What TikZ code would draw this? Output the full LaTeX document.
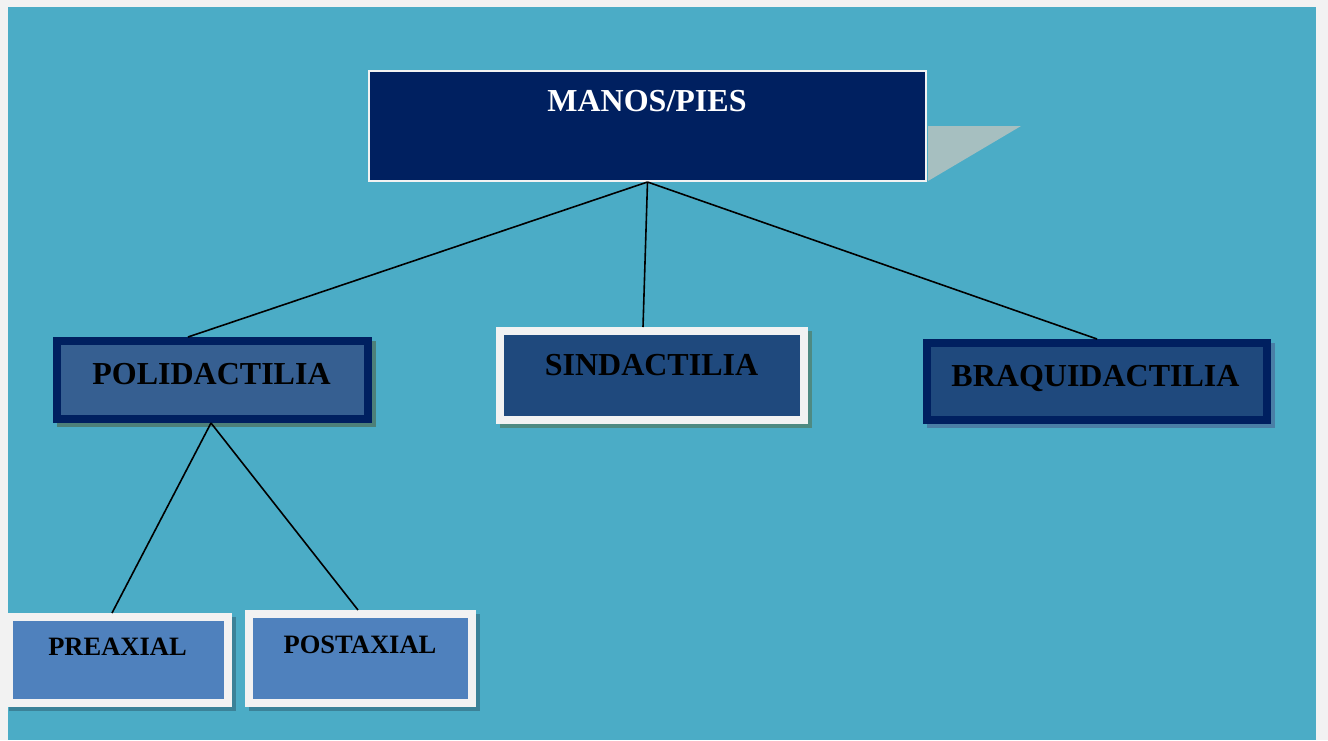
\documentclass[tikz,border=0pt]{standalone}
\usepackage{fontspec}
\setmainfont{Liberation Serif}
\definecolor{pagegray}{HTML}{F2F2F2}
\definecolor{aqua}{HTML}{4BACC6}
\definecolor{navy}{HTML}{002060}
\definecolor{midblue}{HTML}{365F91}
\definecolor{darkblue}{HTML}{1F497D}
\definecolor{lightblue}{HTML}{4F81BD}
\definecolor{wedge}{HTML}{A6BFC0}
\definecolor{shgreen}{HTML}{4D8079}
\definecolor{shsea}{HTML}{4E8A82}
\definecolor{shblue}{HTML}{4A7FA6}
\definecolor{shteal}{HTML}{3B8298}
\tikzset{
  x=1pt, y=-1pt,
  box/.style={rectangle, inner sep=0pt, line width=8pt},
  shade/.style={preaction={draw=#1, fill=#1,
      transform canvas={xshift=3.5pt, yshift=-3.5pt}}},
  label/.style={anchor=base, inner sep=0pt, font=\bfseries\fontsize{32}{32}\selectfont},
  small/.style={anchor=base, inner sep=0pt, font=\bfseries\fontsize{26.5}{26.5}\selectfont},
  link/.style={line width=1.6pt, black}
}
\begin{document}
\begin{tikzpicture}
\useasboundingbox (0,0) rectangle (1328,740);
% page and coloured panel
\fill[pagegray] (0,0) rectangle (1328,740);
\fill[aqua] (8,7) rectangle (1316,740);

% title box with its wedge
\fill[wedge] (928,126) -- (1021,126) -- (928,181) -- cycle;
\node[rectangle, inner sep=0pt, line width=2pt, draw=pagegray, fill=navy,
      minimum width=557pt, minimum height=110pt] (top) at (647.5,126) {};
\node[label, text=white] (toptxt) at (647,111) {MANOS/PIES};

% second level
\node[box, draw=navy, fill=midblue, shade=shgreen,
      minimum width=311pt, minimum height=78pt] (pol) at (212.5,380) {};
\node[label] (poltxt) at (211.5,384) {POLIDACTILIA};

\node[box, draw=pagegray, fill=darkblue, shade=shsea,
      minimum width=304pt, minimum height=89pt] (sin) at (652,375.5) {};
\node[label] (sintxt) at (651.5,375) {SINDACTILIA};

\node[box, draw=navy, fill=darkblue, shade=shblue,
      minimum width=340pt, minimum height=77pt] (bra) at (1097,381.5) {};
\node[label] (bratxt) at (1095.5,386) {BRAQUIDACTILIA};

% third level
\node[box, draw=pagegray, fill=lightblue, shade=shteal,
      minimum width=219pt, minimum height=86pt] (pre) at (118.5,660) {};
\node[small] (pretxt) at (117.5,655) {PREAXIAL};

\node[box, draw=pagegray, fill=lightblue, shade=shteal,
      minimum width=223pt, minimum height=89pt] (post) at (360.5,658.5) {};
\node[small] (posttxt) at (360,653) {POSTAXIAL};

% connectors
\coordinate (hub) at (top.south);
\draw[link] (hub) -- ([xshift=-24.5pt]pol.north);
\draw[link] (hub) -- ([xshift=-9pt]sin.north);
\draw[link] (hub) -- (bra.north);
\coordinate (fork) at ([xshift=-1.5pt]pol.south);
\draw[link] (fork) -- ([xshift=-6.5pt]pre.north);
\draw[link] (fork) -- ([xshift=-2.5pt]post.north);
\end{tikzpicture}
\end{document}
